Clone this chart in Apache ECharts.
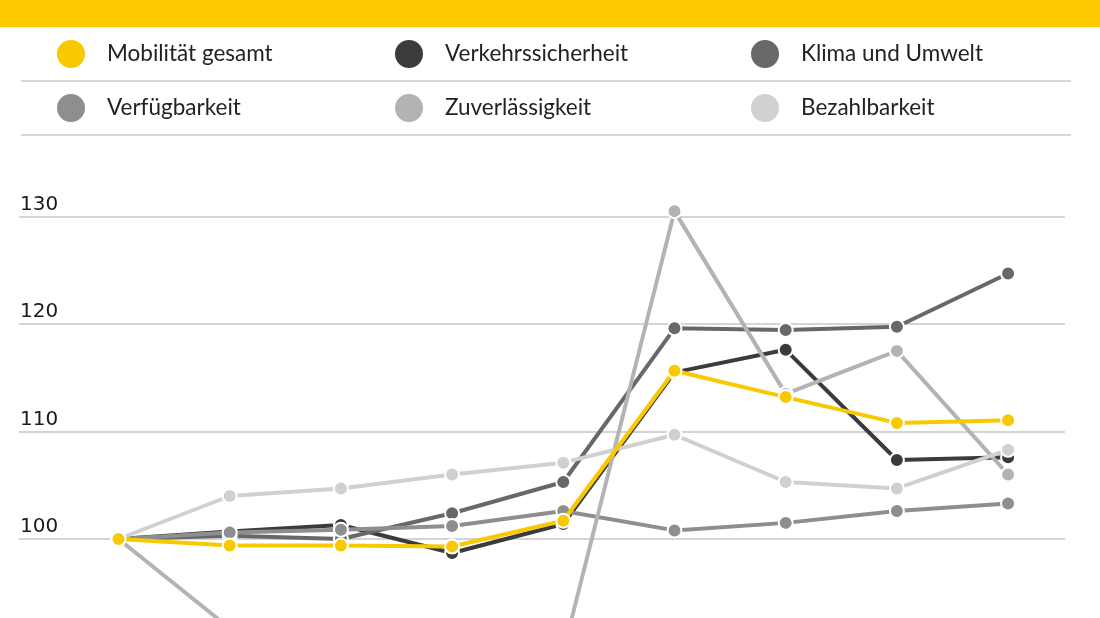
<!DOCTYPE html>
<html>
<head>
<meta charset="utf-8">
<script src="https://cdn.jsdelivr.net/npm/echarts@6/dist/echarts.min.js"></script>
<style>
  html, body { margin: 0; padding: 0; background: #fff; overflow: hidden; }
  /* the chart runs on below the visible window, like the cropped original */
  #main { width: 1100px; height: 760px; }
</style>
</head>
<body>
<div id="main"></div>
<script>
// series names, in drawing order (bottom to top)
var names = ['Verkehrssicherheit', 'Klima und Umwelt', 'Verfügbarkeit', 'Zuverlässigkeit', 'Bezahlbarkeit', 'Mobilität gesamt'];
var colors = ['#3b3b3b', '#686868', '#8e8e8e', '#b3b3b3', '#d0d0d0', '#f8c900'];

// index values per period (100 = start)
var verkehrssicherheit = [100, 100.7, 101.3, 98.7, 101.4, 115.5, 117.6, 107.35, 107.6];
var klimaUmwelt = [100, 100.3, 100.0, 102.4, 105.3, 119.6, 119.45, 119.75, 124.7];
var verfuegbarkeit = [100, 100.6, 100.85, 101.2, 102.6, 100.8, 101.5, 102.6, 103.3];
var zuverlaessigkeit = [100, 91.7, 88.5, 87.5, 89.5, 130.5, 113.5, 117.5, 106.0];
var bezahlbarkeit = [100, 104.0, 104.7, 106.0, 107.1, 109.7, 105.3, 104.7, 108.3];
var mobilitaet = [100, 99.4, 99.4, 99.3, 101.7, 115.65, 113.2, 110.8, 111.05];

var values = [verkehrssicherheit, klimaUmwelt, verfuegbarkeit, zuverlaessigkeit, bezahlbarkeit, mobilitaet];
var yTicks = [100, 110, 120, 130];

var chart = echarts.init(document.getElementById('main'), null, { renderer: 'canvas' });

// legend placement: [name, left, top]
var legendPos = [
  ['Mobilität gesamt', 55, 38],
  ['Verkehrssicherheit', 393, 38],
  ['Klima und Umwelt', 749, 38],
  ['Verfügbarkeit', 55, 92],
  ['Zuverlässigkeit', 393, 92],
  ['Bezahlbarkeit', 749, 92]
];

var legends = legendPos.map(function (p) {
  return {
    data: [p[0]],
    left: p[1],
    top: p[2],
    padding: 0,
    icon: 'circle',
    itemWidth: 30,
    itemHeight: 30,
    selectedMode: false,
    textStyle: {
      fontFamily: 'Lato',
      fontSize: 22.5,
      color: '#222',
      padding: [0, 0, 0, 16]
    }
  };
});

var series = names.map(function (n, k) {
  return {
    name: n,
    type: 'line',
    data: values[k].map(function (v, i) { return [i, v]; }),
    clip: false,
    symbol: 'circle',
    symbolSize: 14,
    lineStyle: { color: colors[k], width: 4 },
    itemStyle: { color: colors[k], borderColor: '#fff', borderWidth: 2 },
    emphasis: { disabled: true },
    z: 2 + k
  };
});

var option = {
  backgroundColor: '#ffffff',
  animation: false,
  legend: legends,
  graphic: [
    { type: 'rect', left: 0, top: 0, shape: { width: 1100, height: 27 }, style: { fill: '#fdca00' } },
    { type: 'line', shape: { x1: 21, y1: 81, x2: 1071, y2: 81 }, style: { stroke: '#d6d6d6', lineWidth: 2 } },
    { type: 'line', shape: { x1: 21, y1: 135, x2: 1071, y2: 135 }, style: { stroke: '#d6d6d6', lineWidth: 2 } }
  ],
  grid: { left: 19, right: 35, top: 216.5, bottom: 6 },
  xAxis: {
    type: 'value',
    min: -0.895,
    max: 8.512,
    show: false
  },
  yAxis: {
    type: 'value',
    min: 80,
    max: 130,
    interval: 10,
    axisLine: { show: false },
    axisTick: { show: false },
    splitLine: { lineStyle: { color: '#d6d3d8', width: 2 } },
    axisLabel: {
      inside: true,
      margin: 1,
      verticalAlign: 'bottom',
      padding: [0, 0, 2, 0],
      fontFamily: 'DejaVu Sans',
      fontSize: 20,
      color: '#1a1a1a',
      formatter: function (v) { return yTicks.indexOf(v) >= 0 ? String(v) : ''; }
    }
  },
  series: series
};

chart.setOption(option);
</script>
</body>
</html>
